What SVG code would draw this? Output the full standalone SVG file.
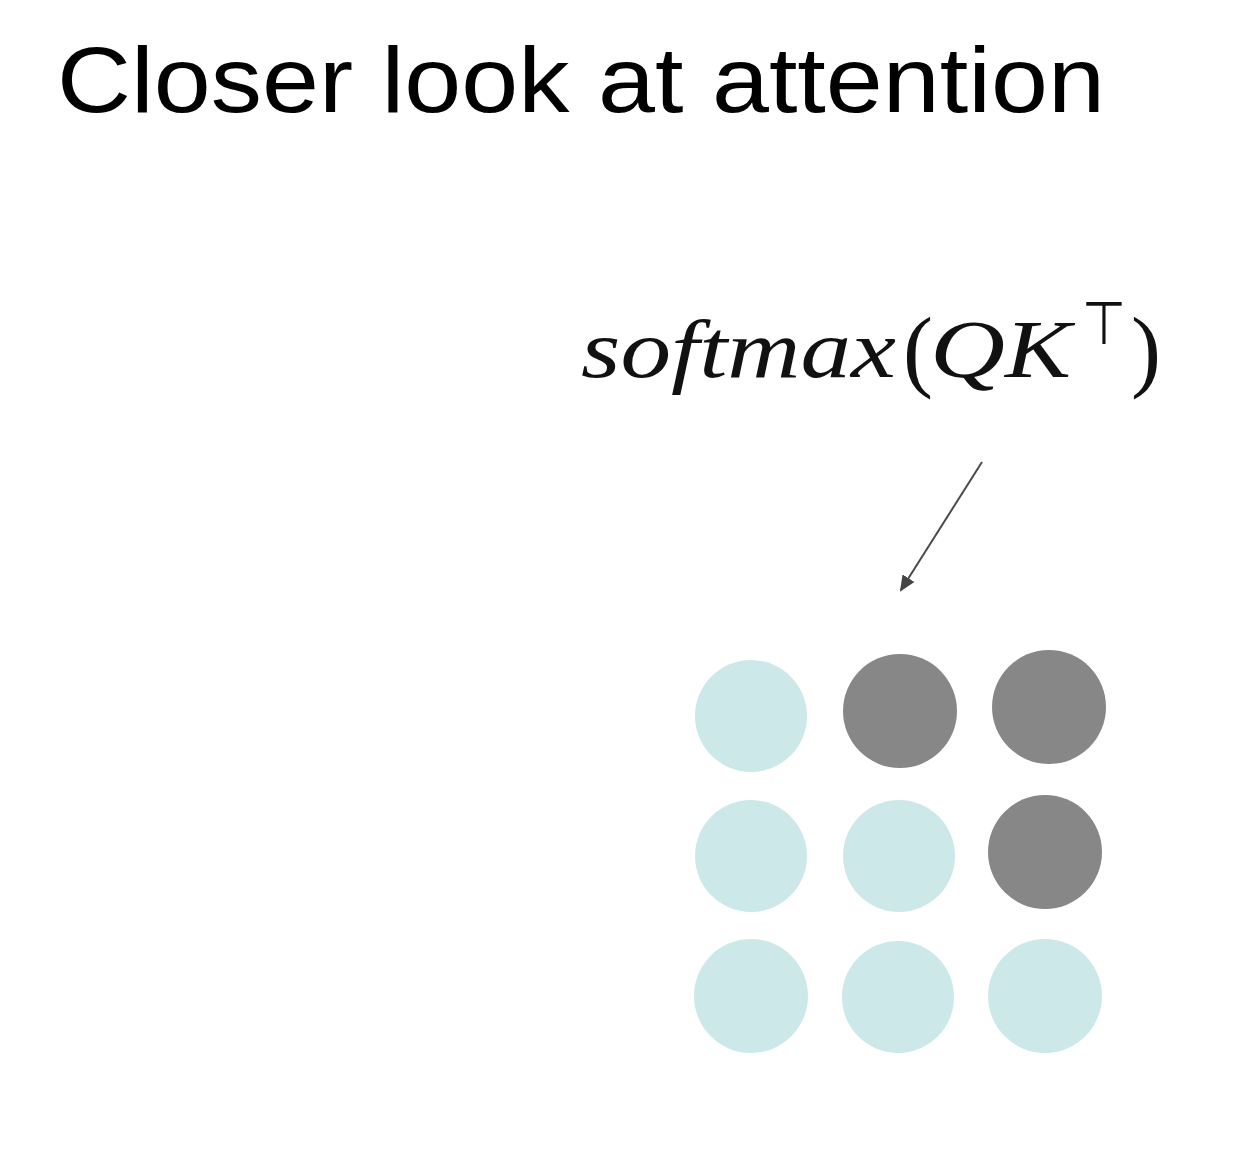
<svg xmlns="http://www.w3.org/2000/svg" width="1254" height="1156" viewBox="0 0 1254 1156">
<style>
.title{font-family:"Liberation Sans","Open Sans",sans-serif;font-size:92px;fill:#000}
.mi{font-family:"Liberation Serif","DejaVu Serif",serif;font-style:italic;font-size:82px;fill:#111}
.mr{font-family:"Liberation Serif","DejaVu Serif",serif;font-size:90px;fill:#111}
.light{fill:#cce8e9}
.dark{fill:#878787}
</style>
<defs>
<marker id="ah" markerWidth="16" markerHeight="14" refX="14" refY="7" orient="auto" markerUnits="userSpaceOnUse" viewBox="0 0 16 14">
<path d="M0,0 L16,7 L0,14 z" fill="#444"/>
</marker>
</defs>
<rect width="1254" height="1156" fill="#fff"/>
<text class="title" x="57" y="112" textLength="1048" lengthAdjust="spacingAndGlyphs">Closer look at attention</text>
<g id="formula">
<text class="mi" x="581" y="377" textLength="315" lengthAdjust="spacingAndGlyphs">softmax</text>
<text class="mr" x="903" y="380">(</text>
<text class="mi" x="930" y="377" textLength="75" lengthAdjust="spacingAndGlyphs">Q</text>
<text class="mi" x="1005" y="377" textLength="66" lengthAdjust="spacingAndGlyphs">K</text>
<text x="1082" y="344" font-family="DejaVu Sans,sans-serif" font-size="60" fill="#111" textLength="44" lengthAdjust="spacingAndGlyphs">⊤</text>
<text class="mr" x="1131" y="380">)</text>
</g>
<g id="connectors">
<line x1="982" y1="462" x2="901" y2="590" stroke="#4a4a4a" stroke-width="2" marker-end="url(#ah)"/>
</g>
<g id="matrix">
<circle id="c11" class="light" cx="751" cy="716" r="56"/>
<circle id="c12" class="dark" cx="900" cy="711" r="57"/>
<circle id="c13" class="dark" cx="1049" cy="707" r="57"/>
<circle id="c21" class="light" cx="751" cy="856" r="56"/>
<circle id="c22" class="light" cx="899" cy="856" r="56"/>
<circle id="c23" class="dark" cx="1045" cy="852" r="57"/>
<circle id="c31" class="light" cx="751" cy="996" r="57"/>
<circle id="c32" class="light" cx="898" cy="997" r="56"/>
<circle id="c33" class="light" cx="1045" cy="996" r="57"/>
</g>
</svg>
